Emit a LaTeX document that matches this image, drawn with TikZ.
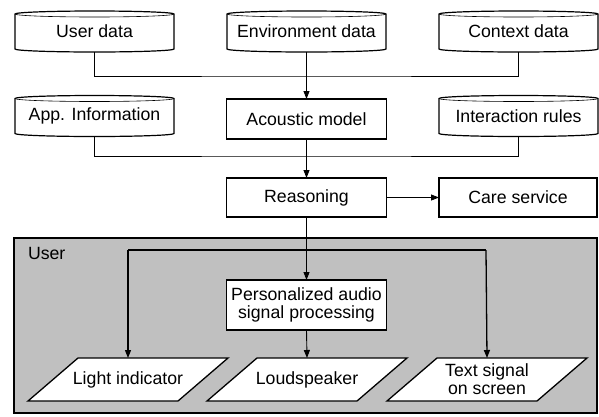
\documentclass[tikz,border=0pt]{standalone}
\usepackage{fontspec}
\setmainfont{Liberation Sans}
\usetikzlibrary{arrows.meta}
\definecolor{panelgray}{RGB}{192,192,192}
\pgfdeclarelayer{back}
\pgfdeclarelayer{mid}
\pgfsetlayers{back,mid,main}
\begin{document}
\begin{tikzpicture}[x=1pt,y=1pt,
  every node/.style={font=\fontsize{17.7}{18}\selectfont, inner sep=0pt, outer sep=0pt},
  box/.style={draw, line width=1.3pt, fill=white, minimum width=160, minimum height=40, align=center},
  store/.style={minimum width=159, minimum height=41},
  outlet/.style={minimum width=150, minimum height=43, align=center},
  link/.style={line width=0.9pt},
  flow/.style={link, -{Triangle[length=8pt,width=6pt]}},
  heavy/.style={line width=1.3pt, -{Triangle[length=8pt,width=6pt]}},
]
\useasboundingbox (0,0) rectangle (599,-416);

% data stores
\node[store] (ud) at (94.5,-31.5) {User data};
\node[store] (ed) at (306.5,-31.5) {Environment data};
\node[store] (cd) at (518.5,-31.5) {Context data};
\node[store] (ai) at (94.5,-116) {App. Information};
\node[store] (ir) at (518.5,-116) {Interaction rules};
\foreach \n in {ud,ed,cd,ai,ir}{
  \draw[line width=1.2pt] ([yshift=-3pt]\n.north west) -- ([yshift=3pt]\n.south west)
    arc[start angle=180,end angle=360,x radius=79.5pt,y radius=3pt]
    -- ([yshift=-3pt]\n.north east)
    arc[start angle=0,end angle=180,x radius=79.5pt,y radius=3pt] -- cycle;
  \draw[line width=0.6pt] ([yshift=-3pt]\n.north west)
    arc[start angle=180,end angle=360,x radius=79.5pt,y radius=3pt];
}

% processing boxes
\node[box] (am) at (306.5,-119) {Acoustic model};
\node[box, minimum height=39] (rs) at (306.5,-197.5) {Reasoning};
\node[box, minimum width=158, minimum height=39] (cs) at (518,-197.5) {Care service};

% user area
\begin{pgfonlayer}{back}
\node[draw, line width=1.3pt, fill=panelgray, anchor=north west,
      minimum width=583, minimum height=175] (userarea) at (14,-238) {};
\end{pgfonlayer}
\node[anchor=west] (userlbl) at (28,-253) {User};
\node[box, minimum height=50] (pa) at (306.5,-305) {Personalized audio\\signal processing};

% output devices
\node[outlet] (li) at (128,-379.5) {Light indicator};
\node[outlet] (ls) at (307,-379.5) {Loudspeaker};
\node[outlet] (ts) at (487,-379.5) {Text signal\\on screen};
\begin{pgfonlayer}{mid}
\foreach \n in {li,ls,ts}{
  \draw[line width=1.3pt, fill=white] ([xshift=25pt]\n.north west) -- ([xshift=25pt]\n.north east)
    -- ([xshift=-25pt]\n.south east) -- ([xshift=-25pt]\n.south west) -- cycle;
}
\end{pgfonlayer}

% connectors
\coordinate (m1) at (306.5,-76);
\coordinate (m2) at (306.5,-156);
\coordinate (jl) at (128,-250);
\coordinate (jr) at (486,-250);
\draw[link] (ud.south) |- (m1) -| (cd.south);
\draw[flow] (ed.south) -- (am.north);
\draw[link] (ai.south) |- (m2) -| (ir.south);
\draw[flow] (am.south) -- (rs.north);
\draw[flow] (rs.east) -- (cs.west);
\draw[flow] (rs.south) -- (pa.north);
\draw[line width=1.8pt] (jl) -- (jr);
\draw[heavy] (jl) -- (li.north);
\draw[heavy] (jr) -- (ts.north);
\draw[flow] (pa.south) -- (ls.north);
\end{tikzpicture}
\end{document}
